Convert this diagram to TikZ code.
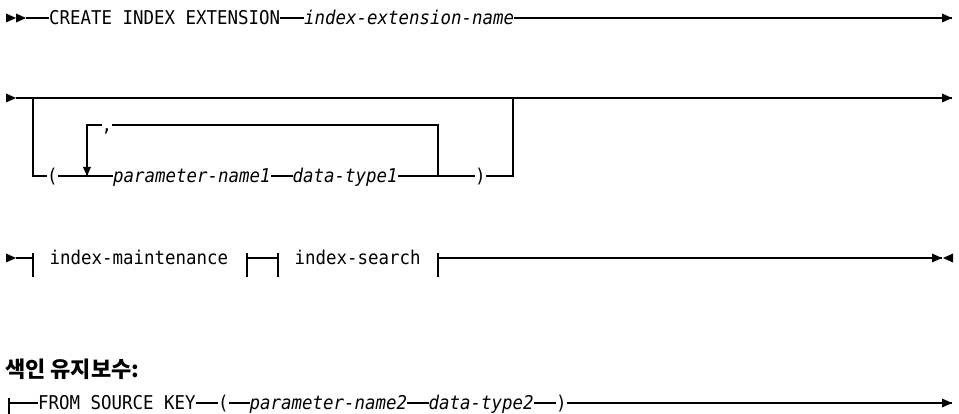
\documentclass[tikz,border=0pt]{standalone}
\usepackage{fontspec}
\newfontfamily\monof{DejaVu Sans Mono}[FakeStretch=0.918]
\newfontfamily\krf{Noto Sans CJK KR}
\tikzset{
  syn/.style={line width=1.1pt, line cap=butt},
  kw/.style={font=\monof\fontsize{19}{22}\selectfont, inner sep=0pt, text height=13.9pt, text depth=0pt, anchor=west},
  var/.style={kw, font=\monof\itshape\fontsize{19}{22}\selectfont},
  head/.style={font=\krf\bfseries\fontsize{22}{25}\selectfont, inner sep=0pt, anchor=base west},
  rarr/.pic={\fill (-10,-4.5) -- (0,0) -- (-10,4.5) -- cycle;},
  larr/.pic={\fill (10,-4.5) -- (0,0) -- (10,4.5) -- cycle;},
  darr/.pic={\fill (-4,-9) -- (0,0) -- (4,-9) -- cycle;},
}
\begin{document}
\begin{tikzpicture}[x=1pt, y=-1pt]
\useasboundingbox (0,0) rectangle (959,414);

% ---------- Row 1 ----------
\coordinate (r1a) at (26,18);
\coordinate (r1e) at (952,18);
\pic at (16,18) {rarr};
\pic at (26,18) {rarr};
\node[kw]  (create) at (49,18) {CREATE INDEX EXTENSION};
\node[var] (iename) at (304,18) {index-extension-name};
\draw[syn] (r1a) -- (create.west);
\draw[syn] (create.east) -- (iename.west);
\draw[syn] (iename.east) -- (r1e);
\pic at (r1e) {rarr};

% ---------- Row 2 ----------
\coordinate (r2a) at (16,98);
\coordinate (r2e) at (952,98);
\coordinate (bl) at (33,98);
\coordinate (br) at (513,98);
\coordinate (lpb) at (438,176);
\coordinate (dtip) at (87,176);
\pic at (r2a) {rarr};
\draw[syn] (r2a) -- (r2e);
\pic at (r2e) {rarr};
\node[kw]  (lp)    at (47,176)    {(};
\node[kw]  (comma) at (101.5,125) {,};
\node[var] (pn1)   at (113,176)   {parameter-name1};
\node[var] (dt1)   at (292.5,176) {data-type1};
\node[kw]  (rp)    at (475,176)   {)};
\draw[syn] (bl) |- (lp.west);
\draw[syn] (lp.east) -- (pn1.west);
\draw[syn] (pn1.east) -- (dt1.west);
\draw[syn] (dt1.east) -- (rp.west);
\draw[syn] (rp.east) -| (br);
\draw[syn] (lpb) |- (comma.east);
\draw[syn] (comma.west) -| (dtip);
\pic at (dtip) {darr};

% ---------- Row 3 ----------
\coordinate (r3a) at (16,258);
\coordinate (b1) at (33,258);  \coordinate (b1t) at (33,253);  \coordinate (b1b) at (33,277);
\coordinate (b2) at (247,258); \coordinate (b2t) at (247,253); \coordinate (b2b) at (247,277);
\coordinate (b3) at (278,258); \coordinate (b3t) at (278,253); \coordinate (b3b) at (278,277);
\coordinate (b4) at (438,258); \coordinate (b4t) at (438,253); \coordinate (b4b) at (438,277);
\coordinate (r3e) at (942,258);
\pic at (r3a) {rarr};
\draw[syn] (r3a) -- (b1);
\draw[syn] (b1t) -- (b1b);
\node[kw] (imaint)  at (49.5,258)  {index-maintenance};
\draw[syn] (b2t) -- (b2b);
\draw[syn] (b2) -- (b3);
\draw[syn] (b3t) -- (b3b);
\node[kw] (isearch) at (294.5,258) {index-search};
\draw[syn] (b4t) -- (b4b);
\draw[syn] (b4) -- (r3e);
\pic at (r3e) {rarr};
\pic at (943,258) {larr};

% ---------- Fragment ----------
\node[head] (title) at (5,377) {색인 유지보수:};
\coordinate (f0) at (9,403); \coordinate (f0t) at (9,398); \coordinate (f0b) at (9,414);
\coordinate (r5e) at (952,403);
\draw[syn] (f0t) -- (f0b);
\node[kw]  (from) at (38,403)    {FROM SOURCE KEY};
\node[kw]  (lp2)  at (218,403)   {(};
\node[var] (pn2)  at (249.5,403) {parameter-name2};
\node[var] (dt2)  at (428.5,403) {data-type2};
\node[kw]  (rp2)  at (556,403)   {)};
\draw[syn] (f0) -- (from.west);
\draw[syn] (from.east) -- (lp2.west);
\draw[syn] (lp2.east) -- (pn2.west);
\draw[syn] (pn2.east) -- (dt2.west);
\draw[syn] (dt2.east) -- (rp2.west);
\draw[syn] (rp2.east) -- (r5e);
\pic at (r5e) {rarr};
\end{tikzpicture}
\end{document}
